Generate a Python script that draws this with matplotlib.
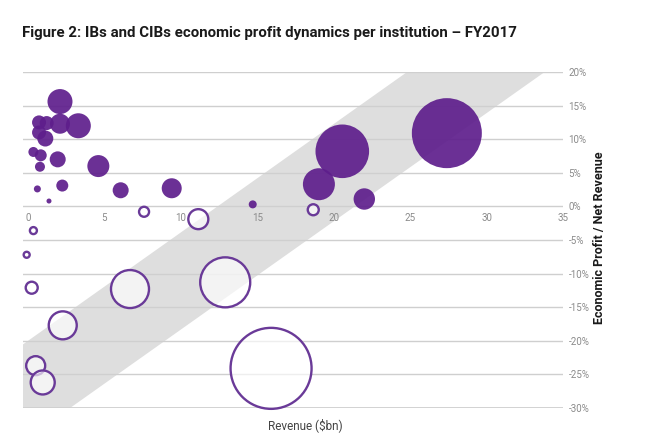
import matplotlib
matplotlib.use("Agg")
import matplotlib.pyplot as plt
from matplotlib.patches import Polygon
from matplotlib.ticker import FuncFormatter

# ---- data ----
# filled bubbles: positive-ish performers
filled_rev = [2.09, 2.09, 3.29, 0.72, 1.22, 0.72, 1.13, 0.35, 0.83, 1.94, 0.78, 4.6,
              0.61, 2.24, 1.37, 6.06, 9.4, 14.7, 27.4, 20.56, 19.03, 22.0]
filled_ep = [15.6, 12.3, 12.0, 12.5, 12.4, 11.0, 10.1, 8.1, 7.6, 7.0, 5.9, 6.0,
             2.6, 3.1, 0.8, 2.4, 2.7, 0.3, 10.9, 8.2, 3.3, 1.1]
filled_size = [12.5, 10, 12.5, 7, 7, 7, 8, 5, 6, 8, 5, 11,
               3.5, 6, 2.5, 8, 10, 4, 35, 26.8, 16, 10.7]

# hollow bubbles
hollow_rev = [18.66, 7.59, 11.14, 0.35, -0.09, 0.24, 6.67, 12.9, 2.27, 0.5, 0.96, 15.9]
hollow_ep = [-0.5, -0.8, -1.9, -3.6, -7.2, -12.1, -12.3, -11.3, -17.7, -23.7, -26.2, -24.1]
hollow_size = [5.5, 5, 10, 3.5, 3, 6, 19, 25, 14, 9.5, 12, 40.5]

# band (corridor) edges: upper line through (0,-20) & (24.8,20); lower line through (2.75,-30) & (33.8,20)
band_upper = [(0.0, -20.0), (24.8, 20.0)]
band_lower = [(2.75, -30.0), (33.8, 20.0)]

x_ticks = [0, 5, 10, 15, 20, 25, 30, 35]
y_ticks = [20, 15, 10, 5, 0, -5, -10, -15, -20, -25, -30]

title = "Figure 2: IBs and CIBs economic profit dynamics per institution \u2013 FY2017"
x_label = "Revenue ($bn)"
y_label = "Economic Profit / Net Revenue"

# ---- figure ----
plt.rcParams['font.family'] = ['Roboto', 'DejaVu Sans']
fig = plt.figure(figsize=(6.66, 4.42), dpi=100)
ax = fig.add_axes([23 / 666, 34 / 442, 540 / 666, 336 / 442])

xmin, xmax = -0.33, 35.0
ymin, ymax = -30, 20
ax.set_xlim(xmin, xmax)
ax.set_ylim(ymin, ymax)

# band polygon
(ux0, uy0), (ux1, uy1) = band_upper
(lx0, ly0), (lx1, ly1) = band_lower
su = (uy1 - uy0) / (ux1 - ux0)
poly = [(xmin, ymin), (lx0, ly0), (lx1, ly1), (ux1, uy1), (xmin, uy0 + su * (xmin - ux0))]
ax.add_patch(Polygon(poly, closed=True, facecolor='#dedede', edgecolor='none', zorder=0))

# gridlines
for yv in y_ticks:
    ax.axhline(yv, color='#cfcfcf', lw=1.3 if yv == -30 else 1.0, zorder=1)

def s_of(r):
    return (2 * 0.72 * r) ** 2

ax.scatter(filled_rev, filled_ep, s=[s_of(r) for r in filled_size],
           color='#5e1e8c', alpha=0.92, edgecolors='none', zorder=3, clip_on=False)
ax.scatter(hollow_rev, hollow_ep, s=[s_of(r) for r in hollow_size],
           facecolors=(1, 1, 1, 0.65), edgecolors='#6a3a98', linewidths=1.7,
           zorder=3, clip_on=False)

# axes styling
for sp in ax.spines.values():
    sp.set_visible(False)
ax.spines['bottom'].set_position(('data', 0))
ax.set_xticks(x_ticks)
ax.set_xticklabels([str(v) for v in x_ticks])
ax.yaxis.tick_right()
ax.set_yticks(y_ticks)
ax.yaxis.set_major_formatter(FuncFormatter(lambda v, p: f"{int(v)}%"))
ax.tick_params(axis='x', length=0, pad=5, labelsize=7, labelcolor='#8a8a8a')
ax.tick_params(axis='y', length=0, pad=4, labelsize=7, labelcolor='#8a8a8a')
ax.set_facecolor('none')

fig.text(22 / 666, 1 - 33 / 442, title, fontsize=10.8, fontweight='bold',
         color='#1a1a1a', va='center', ha='left')
fig.text(305 / 666, 1 - 425 / 442, x_label, fontsize=8.5, color='#444444',
         ha='center', va='center')
fig.text(599 / 666, 1 - 238 / 442, y_label, fontsize=9, fontweight='bold',
         color='#1a1a1a', rotation=90, ha='center', va='center')

fig.savefig('out.png', dpi=100)
